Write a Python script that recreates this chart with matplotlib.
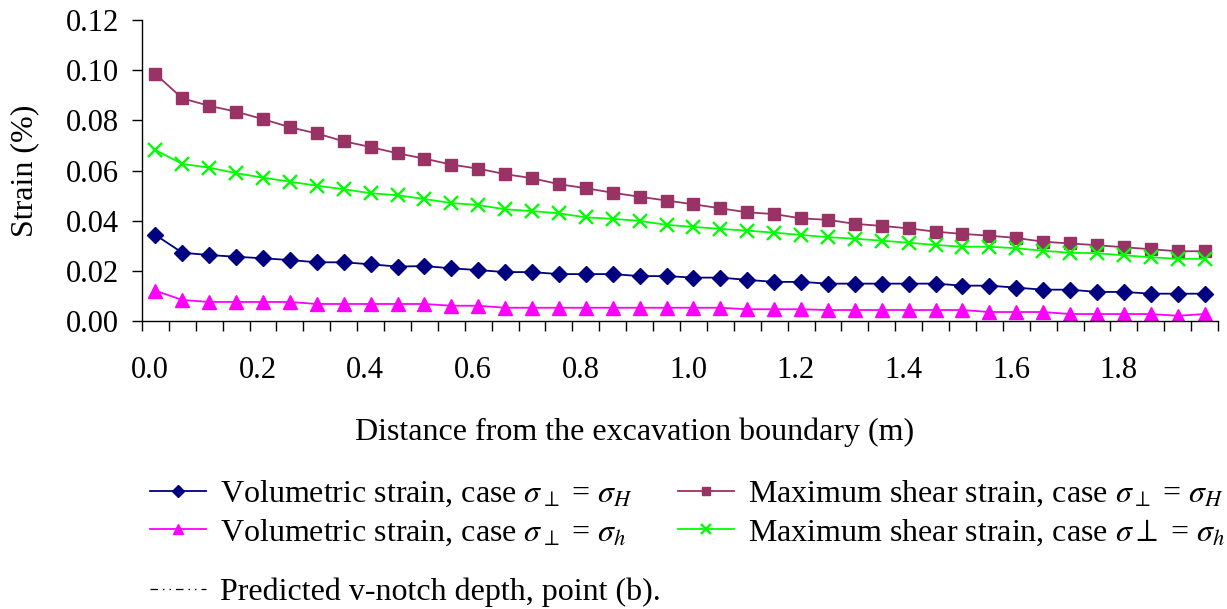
import numpy as np
import matplotlib
matplotlib.use('Agg')
import matplotlib.pyplot as plt
from matplotlib.lines import Line2D

plt.rcParams['font.family'] = ['Liberation Serif', 'DejaVu Serif']
plt.rcParams['mathtext.fontset'] = 'stix'

# --- Data: strain vs distance from the excavation boundary ---
distance = np.round(0.01 + 0.05 * np.arange(40), 3)

vol_H = [0.0344, 0.0273, 0.0264, 0.0257, 0.0251, 0.0244, 0.0235, 0.0235, 0.0227, 0.0218,
         0.0220, 0.0211, 0.0204, 0.0196, 0.0196, 0.0188, 0.0188, 0.0188, 0.0180, 0.0180,
         0.0174, 0.0174, 0.0165, 0.0157, 0.0157, 0.0150, 0.0150, 0.0150, 0.0150, 0.0150,
         0.0142, 0.0142, 0.0134, 0.0126, 0.0126, 0.0117, 0.0117, 0.0110, 0.0110, 0.0110]

vol_h = [0.0122, 0.0085, 0.0077, 0.0077, 0.0077, 0.0077, 0.0069, 0.0069, 0.0069, 0.0069,
         0.0069, 0.0062, 0.0062, 0.0054, 0.0054, 0.0054, 0.0054, 0.0054, 0.0054, 0.0054,
         0.0054, 0.0054, 0.0048, 0.0048, 0.0048, 0.0045, 0.0045, 0.0045, 0.0045, 0.0045,
         0.0045, 0.0037, 0.0037, 0.0037, 0.0029, 0.0029, 0.0029, 0.0029, 0.0022, 0.0029]

shear_H = [0.0985, 0.0888, 0.0858, 0.0835, 0.0805, 0.0773, 0.0748, 0.0717, 0.0694, 0.0669,
           0.0648, 0.0624, 0.0608, 0.0586, 0.0570, 0.0546, 0.0530, 0.0512, 0.0496, 0.0481,
           0.0466, 0.0450, 0.0434, 0.0427, 0.0410, 0.0404, 0.0388, 0.0380, 0.0370, 0.0357,
           0.0348, 0.0341, 0.0332, 0.0317, 0.0310, 0.0303, 0.0295, 0.0287, 0.0279, 0.0279]

shear_h = [0.0682, 0.0627, 0.0612, 0.0590, 0.0572, 0.0556, 0.0540, 0.0526, 0.0510, 0.0502,
           0.0487, 0.0471, 0.0463, 0.0446, 0.0439, 0.0430, 0.0414, 0.0408, 0.0400, 0.0384,
           0.0376, 0.0368, 0.0361, 0.0353, 0.0344, 0.0335, 0.0329, 0.0321, 0.0313, 0.0304,
           0.0297, 0.0297, 0.0291, 0.0281, 0.0273, 0.0271, 0.0263, 0.0255, 0.0249, 0.0249]

x_labels = [0.0, 0.2, 0.4, 0.6, 0.8, 1.0, 1.2, 1.4, 1.6, 1.8]
y_ticks = [0.00, 0.02, 0.04, 0.06, 0.08, 0.10, 0.12]

FS = 23
FS_TICK = 22

# --- Plotting ---
fig = plt.figure(figsize=(12.27, 6.09), dpi=100)
ax = fig.add_axes([0.1157, 0.4724, 0.877, 0.4948])

ax.plot(distance, vol_H, color='#000080', lw=1.3, marker='D', ms=8, label=r'Volumetric strain, case $\sigma_{\perp}$ = $\sigma_H$')
ax.plot(distance, vol_h, color='#FF00FF', lw=1.3, marker='^', ms=10, label=r'Volumetric strain, case $\sigma_{\perp}$ = $\sigma_h$')
ax.plot(distance, shear_H, color='#993366', lw=1.3, marker='s', ms=8.5, label=r'Maximum shear strain, case $\sigma_{\perp}$ = $\sigma_H$')
ax.plot(distance, shear_h, color='#00FF00', lw=1.3, marker='x', ms=10, mew=1.7, label=r'Maximum shear strain, case $\sigma\perp$ = $\sigma_h$')

ax.set_xlim(-0.015, 1.985)
ax.set_ylim(0, 0.12)

for s in ['top', 'right']:
    ax.spines[s].set_visible(False)
for s in ['left', 'bottom']:
    ax.spines[s].set_linewidth(1.0)

ax.set_yticks(y_ticks)
ax.set_yticklabels([f'{v:.2f}' for v in y_ticks], fontsize=FS_TICK)
ax.tick_params(axis='y', length=7, width=1, pad=9.5)

# category boundary ticks, value labels without ticks
ax.set_xticks(x_labels)
ax.set_xticklabels([f'{v:.1f}' for v in x_labels], fontsize=FS_TICK)
ax.set_xticks(-0.015 + 0.05 * np.arange(41), minor=True)
ax.tick_params(axis='x', which='major', length=0, pad=25)
ax.tick_params(axis='x', which='minor', length=7, width=1)

ax.set_ylabel('Strain (%)', fontsize=FS)
ax.yaxis.set_label_coords(-0.0955, 0.5)
fig.text(0.517, 0.2906, 'Distance from the excavation boundary (m)', fontsize=FS,
         ha='center', va='center')

handles, labels = ax.get_legend_handles_labels()
fig.legend(handles, labels, ncol=2, loc='upper left', bbox_to_anchor=(0.109, 0.2397),
           frameon=False, fontsize=FS, handlelength=1.75, handletextpad=0.45,
           columnspacing=1.42, labelspacing=0.25, markerscale=0.75, borderpad=0)

notch = Line2D([], [], color='black', lw=0.9, ls=(0, (6, 4, 1.2, 4, 1.2, 4)))
fig.legend([notch], ['Predicted v-notch depth, point (b).'], loc='upper left',
           bbox_to_anchor=(0.109, 0.0772), frameon=False, fontsize=FS,
           handlelength=1.75, handletextpad=0.45, borderpad=0)

fig.savefig('out.png', dpi=100)
